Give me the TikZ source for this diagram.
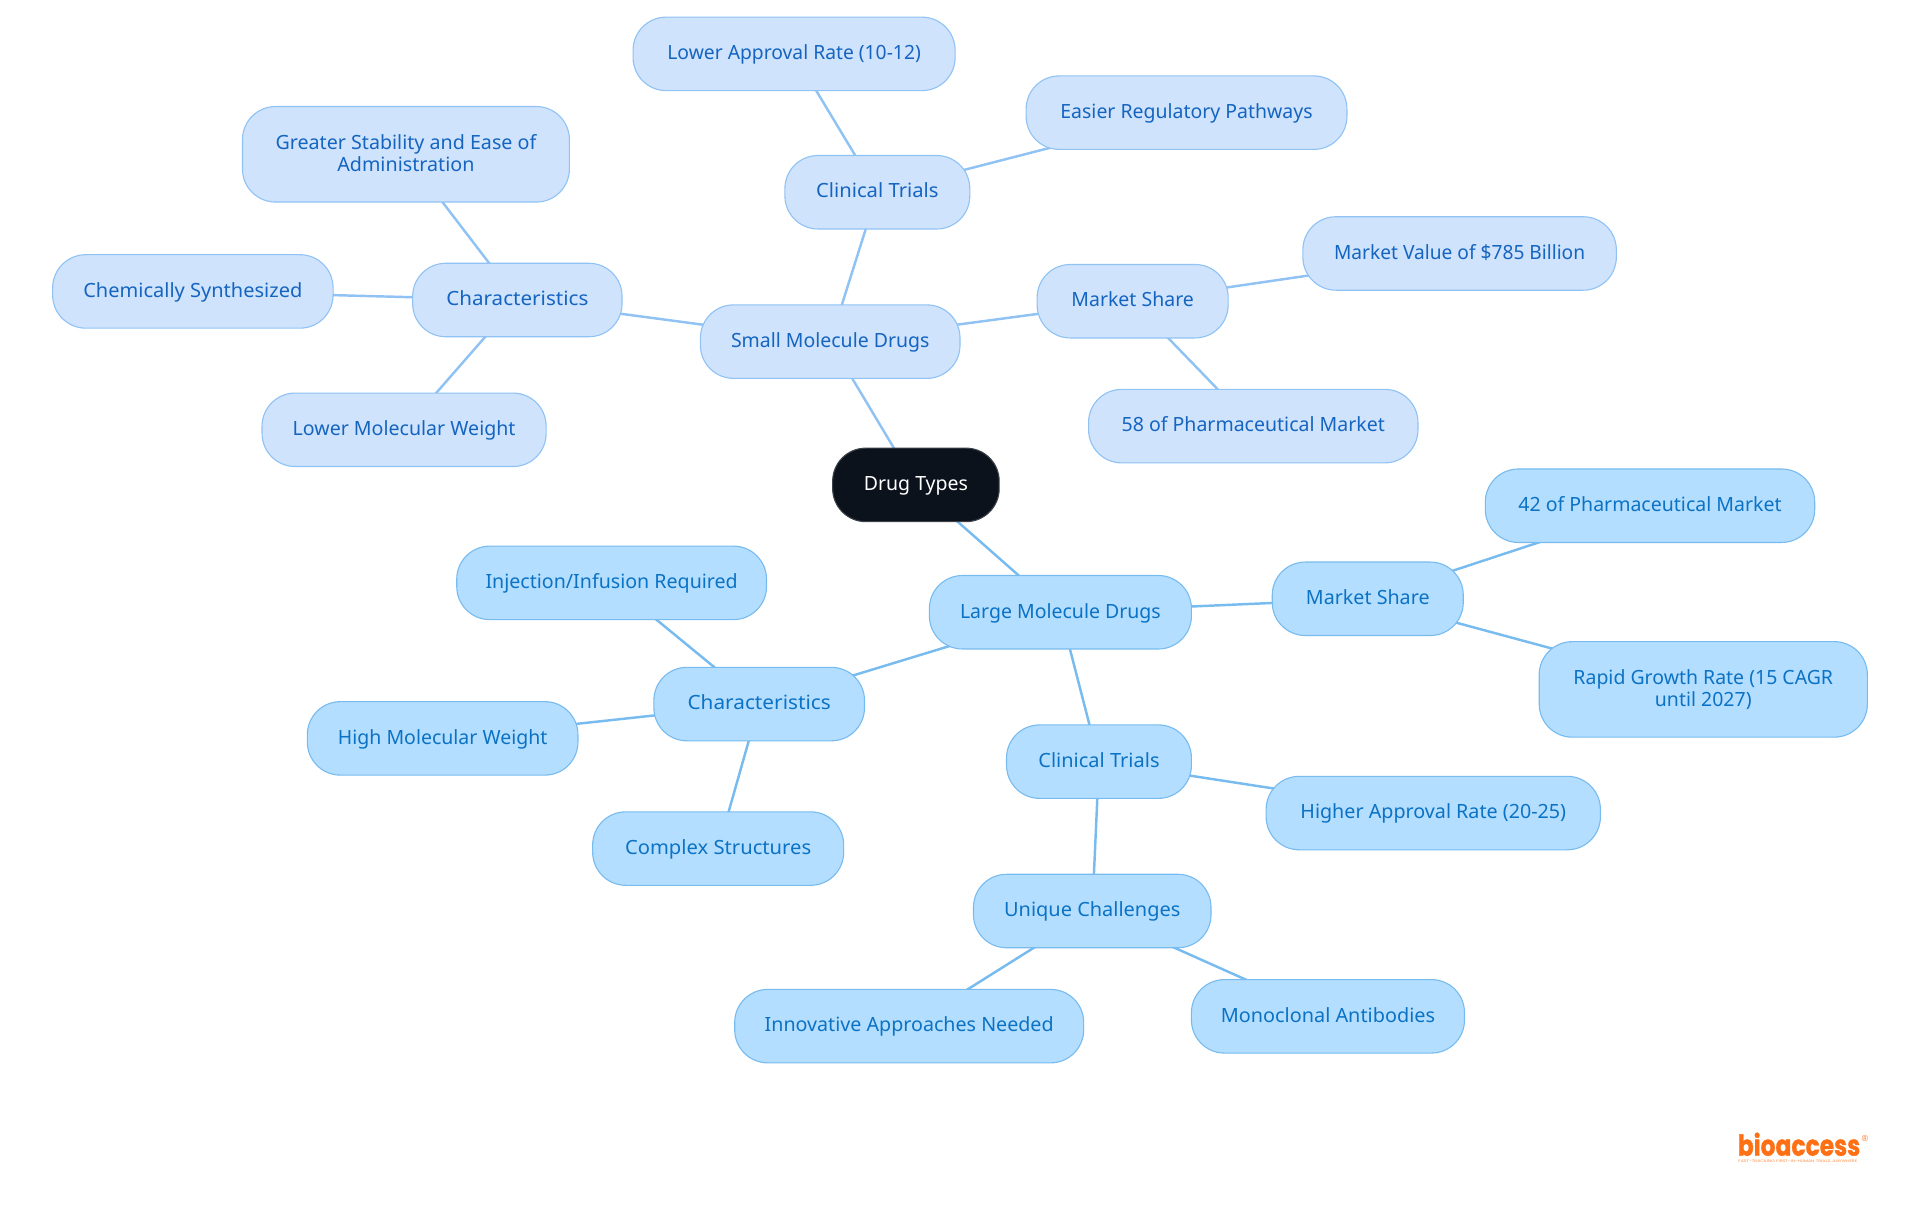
\documentclass[tikz,border=0pt]{standalone}
\usepackage{fontspec}
\setmainfont{Noto Sans}
\newfontfamily\logofont[BoldFeatures={FakeBold=1.2}]{Poppins}
\newfontfamily\regfont{Liberation Sans}
\usetikzlibrary{backgrounds}
\definecolor{smfill}{HTML}{CFE3FC}
\definecolor{smline}{HTML}{90C2F4}
\definecolor{smtext}{HTML}{1565C0}
\definecolor{lgfill}{HTML}{B4DEFF}
\definecolor{lgline}{HTML}{78BBEE}
\definecolor{lgtext}{HTML}{0B72C4}
\definecolor{rootfill}{HTML}{0B121B}
\definecolor{logoorange}{HTML}{FF6F14}
\newcommand{\tw}[2]{\resizebox{#1pt}{\height}{#2}}
\tikzset{
  x=1pt,y=-1pt,
  mapnode/.style={rectangle,rounded corners=27pt,line width=0.9pt,align=center,inner sep=0pt,minimum height=60pt,font=\fontsize{16}{18}\selectfont},
  oneline/.style={text height=12.7pt,text depth=3.3pt},
  rootnode/.style={mapnode,oneline,fill=rootfill,draw=rootfill!80!white,text=white},
  smnode/.style={mapnode,fill=smfill,draw=smline,text=smtext},
  lgnode/.style={mapnode,fill=lgfill,draw=lgline,text=lgtext},
  smone/.style={smnode,oneline},
  lgone/.style={lgnode,oneline},
  smedge/.style={draw=smline,line width=2pt},
  lgedge/.style={draw=lgline,line width=2pt},
}
\begin{document}
\begin{tikzpicture}
\useasboundingbox (0,0) rectangle (1568,992.25);
\node[rootnode,minimum width=136pt] (root) at (748,396) {\tw{85}{Drug Types}};
\node[smone,minimum width=212pt] (small) at (678,279) {\tw{162}{Small Molecule Drugs}};
\node[smone,minimum width=171pt] (charS) at (422.5,245) {\tw{116}{Characteristics}};
\node[smone,minimum width=151pt] (clinS) at (716.5,157) {\tw{100}{Clinical Trials}};
\node[smone,minimum width=156pt] (markS) at (925,246) {\tw{100}{Market Share}};
\node[smone,minimum width=263pt] (lowappr) at (648.5,44) {\tw{207}{Lower Approval Rate (10-12)}};
\node[smone,minimum width=262pt] (easier) at (969,92) {\tw{206}{Easier Regulatory Pathways}};
\node[smnode,minimum width=267pt,minimum height=78pt] (greater) at (331.5,126) {\tw{213}{Greater Stability and Ease of}\\\tw{112}{Administration}\rule[-2pt]{0pt}{1pt}};
\node[smone,minimum width=229pt] (chem) at (157.5,238) {\tw{179}{Chemically Synthesized}};
\node[smone,minimum width=232pt] (lowmw) at (330,351) {\tw{182}{Lower Molecular Weight}};
\node[smone,minimum width=256pt] (value) at (1192,207) {\tw{205}{Market Value of \$785 Billion}};
\node[smone,minimum width=269pt] (p58) at (1023.5,348) {\tw{215}{58 of Pharmaceutical Market}};
\node[lgone,minimum width=214pt] (large) at (866,500) {\tw{164}{Large Molecule Drugs}};
\node[lgone,minimum width=172pt] (charL) at (620,575) {\tw{117}{Characteristics}};
\node[lgone,minimum width=156pt] (markL) at (1117,489) {\tw{101}{Market Share}};
\node[lgone,minimum width=151pt] (clinL) at (897.5,622) {\tw{99}{Clinical Trials}};
\node[lgone,minimum width=253pt] (inj) at (499.5,476) {\tw{206}{Injection/Infusion Required}};
\node[lgone,minimum width=221pt] (high) at (361.5,603) {\tw{171}{High Molecular Weight}};
\node[lgone,minimum width=205pt] (complex) at (586.5,693) {\tw{152}{Complex Structures}};
\node[lgone,minimum width=269pt] (p42) at (1347.5,413) {\tw{215}{42 of Pharmaceutical Market}};
\node[lgnode,minimum width=268pt,minimum height=78pt] (rapid) at (1391,563) {\tw{212}{Rapid Growth Rate (15 CAGR}\\\tw{79}{until 2027)}};
\node[lgone,minimum width=273pt] (higher) at (1170.5,664) {\tw{217}{Higher Approval Rate (20-25)}};
\node[lgone,minimum width=194pt] (unique) at (892,744) {\tw{144}{Unique Challenges}};
\node[lgone,minimum width=285pt] (innov) at (742.5,838) {\tw{236}{Innovative Approaches Needed}};
\node[lgone,minimum width=223pt] (mono) at (1084.5,830) {\tw{175}{Monoclonal Antibodies}};
\node[inner sep=0pt,anchor=base west,text=logoorange,font=\logofont\bfseries\fontsize{23.5}{24}\selectfont] (logo) at (1419,943.8) {\resizebox{100pt}{\height}{bioaccess}};
\node[inner sep=0pt,text=logoorange,font=\regfont\fontsize{7}{7}\selectfont] (logoreg) at (1523,930) {®};
\node[inner sep=0pt,anchor=base west,text=logoorange!80!white,font=\logofont\fontsize{3}{3}\selectfont] (logotag) at (1419.5,949.5) {\resizebox{97pt}{\height}{FAST-TRACKING FIRST-IN-HUMAN TRIALS, ANYWHERE}};
\begin{pgfonlayer}{background}
\foreach \a/\b in {root/small,small/charS,small/clinS,small/markS,clinS/lowappr,clinS/easier,charS/greater,charS/chem,charS/lowmw,markS/value,markS/p58}
  \draw[smedge] (\a.center) -- (\b.center);
\foreach \a/\b in {root/large,large/charL,large/markL,large/clinL,charL/inj,charL/high,charL/complex,markL/p42,markL/rapid,clinL/higher,clinL/unique,unique/innov,unique/mono}
  \draw[lgedge] (\a.center) -- (\b.center);
\end{pgfonlayer}
\end{tikzpicture}
\end{document}
